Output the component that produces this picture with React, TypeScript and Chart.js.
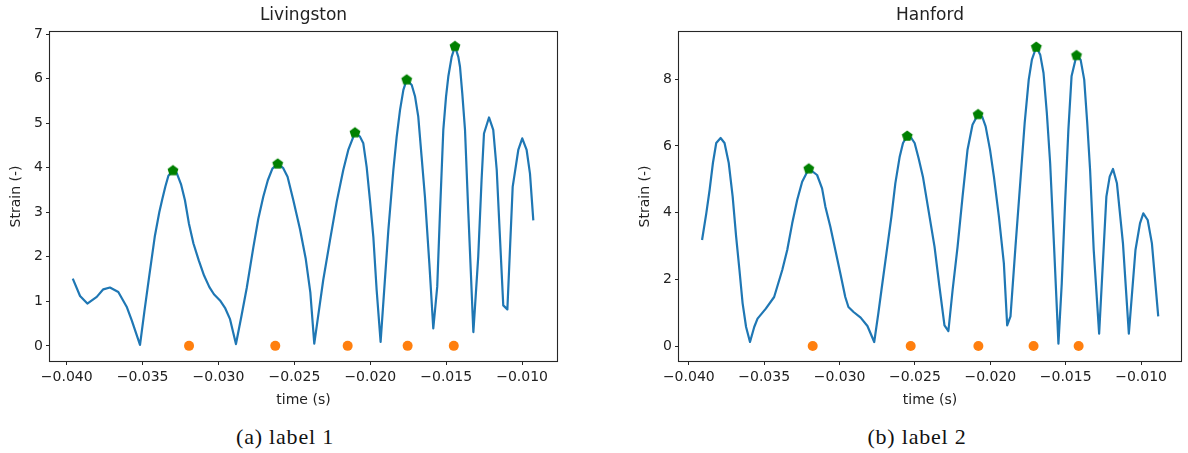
import React, { useEffect, useRef } from 'react';
import { Chart, registerables } from 'chart.js';

Chart.register(...registerables);

// ---------- Data ----------
const livTime = [
  -0.03960, -0.03912, -0.03864, -0.03802, -0.03759, -0.03715, -0.03660, -0.03605, -0.03572, -0.03517,
  -0.03489, -0.03455, -0.03420, -0.03390, -0.03370, -0.03350, -0.03330, -0.03300, -0.03275, -0.03246,
  -0.03221, -0.03195, -0.03165, -0.03130, -0.03095, -0.03060, -0.03030, -0.02990, -0.02955, -0.02924,
  -0.02885, -0.02850, -0.02814, -0.02771, -0.02738, -0.02705, -0.02675, -0.02645, -0.02610, -0.02575,
  -0.02545, -0.02507, -0.02463, -0.02425, -0.02395, -0.02369, -0.02310, -0.02265, -0.02221, -0.02178,
  -0.02145, -0.02101, -0.02068, -0.02046, -0.02024, -0.02002, -0.01980, -0.01958, -0.01932, -0.01881,
  -0.01848, -0.01826, -0.01804, -0.01782, -0.01760, -0.01727, -0.01705, -0.01684, -0.01662, -0.01640,
  -0.01611, -0.01585, -0.01559, -0.01541, -0.01519, -0.01501, -0.01486, -0.01464, -0.01442, -0.01420,
  -0.01409, -0.01394, -0.01376, -0.01354, -0.01321, -0.01289, -0.01267, -0.01251, -0.01218, -0.01190,
  -0.01167, -0.01146, -0.01124, -0.01097, -0.01062, -0.01025, -0.00999, -0.00970, -0.00948, -0.00926,
];
const livStrain = [
  1.51, 1.12, 0.95, 1.10, 1.27, 1.31, 1.21, 0.88, 0.58, 0.02,
  0.75, 1.60, 2.45, 3.00, 3.30, 3.58, 3.82, 3.94, 3.88, 3.62,
  3.27, 2.75, 2.30, 1.92, 1.58, 1.32, 1.16, 1.02, 0.84, 0.60,
  0.04, 0.65, 1.30, 2.20, 2.85, 3.35, 3.72, 3.98, 4.09, 4.00,
  3.80, 3.27, 2.62, 1.95, 1.20, 0.05, 1.48, 2.38, 3.24, 3.95,
  4.40, 4.79, 4.70, 4.55, 4.02, 3.27, 2.45, 1.25, 0.09, 2.60,
  3.95, 4.70, 5.30, 5.75, 5.98, 5.86, 5.60, 5.15, 4.25, 3.35,
  1.85, 0.39, 1.33, 2.98, 4.85, 5.60, 6.05, 6.49, 6.73, 6.49,
  6.27, 5.67, 4.85, 2.98, 0.31, 2.00, 3.72, 4.77, 5.13, 4.85,
  3.95, 2.45, 0.91, 0.82, 3.57, 4.40, 4.66, 4.40, 3.87, 2.82,
];
const livPeakTime = [-0.03300, -0.02610, -0.02101, -0.01760, -0.01442];
const livPeakStrain = [3.94, 4.09, 4.79, 5.98, 6.73];
const livDotTime = [-0.03194, -0.02626, -0.02149, -0.01754, -0.01450];
const livDotStrain = [0, 0, 0, 0, 0];

const hanTime = [
  -0.03912, -0.03884, -0.03862, -0.03840, -0.03818, -0.03789, -0.03763, -0.03735, -0.03709, -0.03686,
  -0.03664, -0.03643, -0.03620, -0.03594, -0.03566, -0.03544, -0.03489, -0.03434, -0.03380, -0.03347,
  -0.03314, -0.03281, -0.03248, -0.03204, -0.03149, -0.03116, -0.03094, -0.03061, -0.03028, -0.02995,
  -0.02962, -0.02941, -0.02907, -0.02860, -0.02815, -0.02770, -0.02743, -0.02722, -0.02689, -0.02656,
  -0.02630, -0.02601, -0.02579, -0.02551, -0.02524, -0.02502, -0.02476, -0.02447, -0.02414, -0.02370,
  -0.02337, -0.02304, -0.02278, -0.02250, -0.02217, -0.02184, -0.02151, -0.02118, -0.02081, -0.02053,
  -0.02031, -0.02002, -0.01976, -0.01943, -0.01910, -0.01888, -0.01866, -0.01833, -0.01800, -0.01772,
  -0.01745, -0.01724, -0.01695, -0.01669, -0.01647, -0.01625, -0.01603, -0.01577, -0.01548, -0.01526,
  -0.01504, -0.01482, -0.01461, -0.01428, -0.01401, -0.01377, -0.01357, -0.01338, -0.01314, -0.01278,
  -0.01230, -0.01208, -0.01186, -0.01160, -0.01120, -0.01081, -0.01037, -0.01007, -0.00985, -0.00956,
  -0.00928, -0.00886,
];
const hanStrain = [
  3.18, 3.98, 4.68, 5.49, 6.09, 6.24, 6.09, 5.49, 4.48, 3.28,
  2.28, 1.28, 0.57, 0.12, 0.57, 0.82, 1.12, 1.47, 2.28, 2.88,
  3.68, 4.38, 4.93, 5.32, 5.13, 4.73, 4.18, 3.58, 2.88, 2.18,
  1.47, 1.17, 1.02, 0.85, 0.60, 0.12, 0.97, 1.68, 2.78, 3.88,
  4.88, 5.68, 6.09, 6.30, 6.24, 6.09, 5.64, 5.08, 4.18, 2.98,
  1.77, 0.62, 0.45, 1.68, 2.98, 4.48, 5.89, 6.64, 6.95, 6.87,
  6.59, 5.89, 5.08, 3.88, 2.48, 0.62, 0.89, 2.98, 4.98, 6.69,
  7.99, 8.59, 8.97, 8.74, 8.19, 6.99, 5.49, 2.98, 0.07, 1.88,
  4.28, 6.49, 8.09, 8.72, 8.59, 7.99, 6.69, 5.28, 2.88, 0.37,
  4.48, 5.08, 5.31, 4.88, 3.08, 0.37, 2.88, 3.68, 3.98, 3.78,
  3.08, 0.89,
];
const hanPeakTime = [-0.03204, -0.02551, -0.02081, -0.01695, -0.01428];
const hanPeakStrain = [5.32, 6.30, 6.95, 8.97, 8.72];
const hanDotTime = [-0.03178, -0.02528, -0.02079, -0.01713, -0.01414];
const hanDotStrain = [0, 0, 0, 0, 0];

const xTickValues = [-0.040, -0.035, -0.030, -0.025, -0.020, -0.015, -0.010];
const xTickLabels = ['\u22120.040', '\u22120.035', '\u22120.030', '\u22120.025', '\u22120.020', '\u22120.015', '\u22120.010'];
const livYTicks = [0, 1, 2, 3, 4, 5, 6, 7];
const hanYTicks = [0, 2, 4, 6, 8];

const titles = ['Livingston', 'Hanford'];
const captions = ['(a) label 1', '(b) label 2'];
const xAxisLabel = 'time (s)';
const yAxisLabel = 'Strain (-)';

// ---------- Helpers ----------
const FONT = 'DejaVu Sans';
const TEXT = '#222222';

function makePentagon(): HTMLCanvasElement {
  const c = document.createElement('canvas');
  c.width = 14;
  c.height = 14;
  const ctx = c.getContext('2d')!;
  const r = 5.7, cx = 7, cy = 7.2;
  ctx.beginPath();
  for (let i = 0; i < 5; i++) {
    const a = -Math.PI / 2 + (i * 2 * Math.PI) / 5;
    const px = cx + r * Math.cos(a);
    const py = cy + r * Math.sin(a);
    if (i === 0) ctx.moveTo(px, py);
    else ctx.lineTo(px, py);
  }
  ctx.closePath();
  ctx.fillStyle = '#008000';
  ctx.fill();
  return c;
}

const spinePlugin = {
  id: 'spines',
  afterDatasetsDraw(chart: any) {
    const { ctx, chartArea } = chart;
    const { left, top, right, bottom } = chartArea;
    ctx.save();
    ctx.strokeStyle = '#262626';
    ctx.lineWidth = 1.1;
    ctx.strokeRect(left - 0.5, top - 0.5, right - left + 1, bottom - top + 1);
    ctx.restore();
  },
};

const zip = (xs: number[], ys: number[]) => xs.map((x, i) => ({ x, y: ys[i] }));

interface PanelProps {
  title: string;
  time: number[];
  strain: number[];
  peakT: number[];
  peakS: number[];
  dotT: number[];
  dotS: number[];
  yTicks: number[];
  yMin: number;
  yMax: number;
  xMin: number;
  xMax: number;
  padLeft: number;
  padRight: number;
  left: number;
}

function Panel(p: PanelProps) {
  const ref = useRef<HTMLCanvasElement | null>(null);
  useEffect(() => {
    if (!ref.current) return;
    const tickFont = { family: FONT, size: 14, weight: 'normal' as const };
    const chart = new Chart(ref.current, {
      type: 'scatter',
      data: {
        datasets: [
          {
            data: zip(p.time, p.strain),
            showLine: true,
            borderColor: '#1f77b4',
            backgroundColor: '#1f77b4',
            borderWidth: 2.2,
            pointRadius: 0,
            tension: 0,
            borderJoinStyle: 'round',
            order: 3,
          },
          {
            data: zip(p.peakT, p.peakS),
            pointStyle: makePentagon() as any,
            pointRadius: 6,
            backgroundColor: '#008000',
            borderColor: '#008000',
            order: 1,
          },
          {
            data: zip(p.dotT, p.dotS),
            pointStyle: 'circle',
            pointRadius: 5,
            borderWidth: 0,
            backgroundColor: '#ff7f0e',
            borderColor: '#ff7f0e',
            order: 2,
          },
        ],
      },
      options: {
        responsive: false,
        animation: false,
        devicePixelRatio: 1,
        layout: { padding: { left: p.padLeft, right: p.padRight, top: 0, bottom: 0 } },
        plugins: {
          legend: { display: false },
          tooltip: { enabled: false },
          title: {
            display: true,
            text: p.title,
            fullSize: false,
            color: TEXT,
            font: { family: FONT, size: 17, weight: 'normal' },
            padding: { top: 5, bottom: 6.6 },
          },
        },
        scales: {
          x: {
            type: 'linear',
            min: p.xMin,
            max: p.xMax,
            afterBuildTicks: (s: any) => {
              s.ticks = xTickValues.map((v) => ({ value: v }));
            },
            afterFit: (s: any) => {
              s.height = 59;
            },
            ticks: {
              autoSkip: false,
              maxRotation: 0,
              minRotation: 0,
              padding: 4,
              color: TEXT,
              font: tickFont,
              callback: (v: any) => {
                const i = xTickValues.findIndex((t) => Math.abs(t - Number(v)) < 1e-9);
                return i >= 0 ? xTickLabels[i] : '';
              },
            },
            grid: { drawOnChartArea: false, drawTicks: true, tickLength: 4, color: '#262626', lineWidth: 1 },
            border: { display: false },
            title: {
              display: true,
              text: xAxisLabel,
              color: TEXT,
              font: tickFont,
              padding: { top: 0, bottom: 11.6 },
            },
          },
          y: {
            type: 'linear',
            min: p.yMin,
            max: p.yMax,
            afterBuildTicks: (s: any) => {
              s.ticks = p.yTicks.map((v) => ({ value: v }));
            },
            afterFit: (s: any) => {
              s.width = 50;
            },
            ticks: {
              autoSkip: false,
              padding: 3,
              color: TEXT,
              font: tickFont,
              callback: (v: any) => String(v),
            },
            grid: { drawOnChartArea: false, drawTicks: true, tickLength: 4, color: '#262626', lineWidth: 1 },
            border: { display: false },
            title: {
              display: true,
              text: yAxisLabel,
              color: TEXT,
              font: tickFont,
              padding: { top: 8, bottom: 0 },
            },
          },
        },
      } as any,
      plugins: [spinePlugin],
    });
    return () => chart.destroy();
  }, []);
  return (
    <canvas
      ref={ref}
      width={594}
      height={420}
      style={{ position: 'absolute', left: p.left, top: 0, width: 594, height: 420 }}
    />
  );
}

export default function App() {
  const capStyle: React.CSSProperties = {
    position: 'absolute',
    top: 425,
    width: 300,
    textAlign: 'center',
    fontFamily: '"Liberation Serif", "DejaVu Serif", serif',
    fontSize: 22,
    lineHeight: '24px',
    letterSpacing: '0.8px',
    color: '#111',
  };
  return (
    <div style={{ position: 'fixed', left: 0, top: 0, width: 1188, height: 453, background: '#fff', overflow: 'hidden' }}>
      <Panel
        title={titles[0]}
        time={livTime}
        strain={livStrain}
        peakT={livPeakTime}
        peakS={livPeakStrain}
        dotT={livDotTime}
        dotS={livDotStrain}
        yTicks={livYTicks}
        yMin={-0.34}
        yMax={7.05}
        xMin={-0.0411}
        xMax={-0.0077}
        padLeft={0}
        padRight={37}
        left={0}
      />
      <Panel
        title={titles[1]}
        time={hanTime}
        strain={hanStrain}
        peakT={hanPeakTime}
        peakS={hanPeakStrain}
        dotT={hanDotTime}
        dotS={hanDotStrain}
        yTicks={hanYTicks}
        yMin={-0.45}
        yMax={9.42}
        xMin={-0.04065}
        xMax={-0.00735}
        padLeft={35}
        padRight={3}
        left={594}
      />
      <div style={{ ...capStyle, left: 135 }}>{captions[0]}</div>
      <div style={{ ...capStyle, left: 767 }}>{captions[1]}</div>
    </div>
  );
}
